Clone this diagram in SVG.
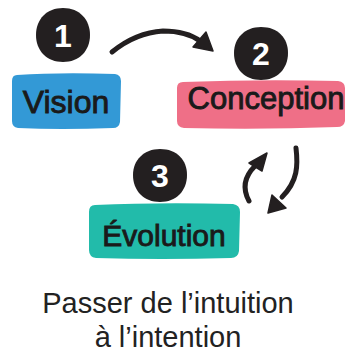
<svg xmlns="http://www.w3.org/2000/svg" width="345" height="356" viewBox="0 0 345 356">
<style>
.num{fill:#231f20}
.numt{font-family:"Liberation Sans",Arial,sans-serif;font-weight:bold;font-size:32px;fill:#ffffff;text-anchor:middle}
.lbl{font-family:"Liberation Sans",Arial,sans-serif;font-size:31px;fill:#1a1a1a;stroke:#1a1a1a;stroke-width:0.9;text-anchor:middle}
.cap{font-family:"Liberation Sans",Arial,sans-serif;font-size:29px;fill:#222222;text-anchor:middle}
.arr{fill:none;stroke:#231f20;stroke-width:5;stroke-linecap:round}
.head{fill:#231f20;stroke:#231f20;stroke-width:1.5;stroke-linejoin:round}
</style>
<rect width="345" height="356" fill="#ffffff"/>
<g id="node-vision">
<path d="M17,75 Q60,72 115,74 Q121,75 121,81 L120,122 Q119,128 113,128 Q60,130 18,128 Q12,127 12,121 L12,81 Q12,75 17,75 Z" fill="#3399d6"/>
<path class="num" d="M63,8 C80,8 90,20 90,35 C90,51 79,62 63,62 C47,62 36,51 36,35 C36,19 47,8 63,8 Z"/>
<text class="numt" x="63" y="47">1</text>
<text class="lbl" x="66" y="113" style="font-size:32px">Vision</text>
</g>
<g id="node-conception">
<path d="M183,82 Q260,79 338,81 Q345,82 345,88 L345,121 Q344,127 337,127 Q260,130 184,128 Q177,127 177,121 L177,88 Q177,82 183,82 Z" fill="#ef6f87"/>
<path class="num" d="M261,27 C278,27 288,38 288,53 C288,69 277,80 261,80 C245,80 234,69 234,53 C234,38 245,27 261,27 Z"/>
<text class="numt" x="261" y="65">2</text>
<text class="lbl" x="266" y="109">Conception</text>
</g>
<g id="node-evolution">
<path d="M95,205 Q160,202 233,204 Q240,205 240,212 L239,251 Q238,258 231,258 Q160,260 96,258 Q89,257 89,250 L89,212 Q89,205 95,205 Z" fill="#22bbaa"/>
<path class="num" d="M160,149 C177,149 187,160 187,175 C187,191 176,202 160,202 C144,202 133,191 133,175 C133,160 144,149 160,149 Z"/>
<text class="numt" x="160" y="187">3</text>
<text class="lbl" x="164" y="246" style="font-size:30px">Évolution</text>
</g>
<g id="connectors">
<path class="arr" d="M112,52 C128,39 147,32 163,31 C180,31 192,35 200,41"/>
<polygon class="head" points="206,32 213,51 193,47"/>
<path class="arr" d="M249,201 C243,190 243,178 255,166"/>
<polygon class="head" points="267,153 262,171 249,163"/>
<path class="arr" d="M296,148 C298,165 298,181 282,197"/>
<polygon class="head" points="268,213 272,195 286,208"/>
</g>
<g id="caption">
<text class="cap" x="168" y="313">Passer de l’intuition</text>
<text class="cap" x="168" y="347">à l’intention</text>
</g>
</svg>
